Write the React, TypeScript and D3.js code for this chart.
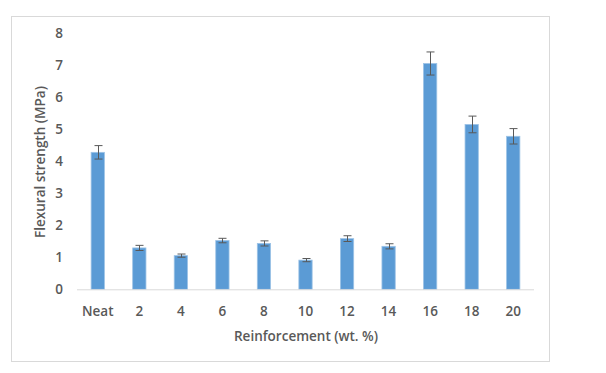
import * as d3 from 'd3';
import React, { useRef, useEffect } from 'react';

// categories and values
const categories = ['Neat', '2', '4', '6', '8', '10', '12', '14', '16', '18', '20'];
const strength = [4.27, 1.29, 1.05, 1.52, 1.43, 0.91, 1.58, 1.34, 7.04, 5.14, 4.77];
const errors = [0.21, 0.08, 0.05, 0.07, 0.08, 0.05, 0.09, 0.08, 0.36, 0.26, 0.24];
const yTicks = [0, 1, 2, 3, 4, 5, 6, 7, 8];

const App = () => {
    const svgRef = useRef<SVGSVGElement>(null);

    useEffect(() => {
        const font = "'Open Sans', 'Liberation Sans', sans-serif";
        const textColor = '#595959';
        const fontSize = 13.5;

        const svg = d3.select(svgRef.current);
        svg.selectAll('*').remove();

        // outer chart frame
        svg.append('rect')
            .attr('x', 11.5).attr('y', 16.5)
            .attr('width', 538).attr('height', 345)
            .attr('fill', '#fff')
            .attr('stroke', '#d9d9d9');

        const x = d3.scaleBand()
            .domain(categories)
            .range([77, 534])
            .paddingInner(0.68)
            .paddingOuter(0.34);

        const y = d3.scaleLinear()
            .domain([0, 8])
            .range([289.3, 32.7]);

        // y tick labels (no grid lines)
        svg.append('g')
            .selectAll('text')
            .data(yTicks)
            .enter().append('text')
            .attr('x', 63)
            .attr('y', (d) => y(d))
            .attr('dy', '0.36em')
            .attr('text-anchor', 'end')
            .attr('font-family', font)
            .attr('font-weight', 600)
            .attr('font-size', fontSize)
            .attr('fill', textColor)
            .text((d) => d);

        // bars
        svg.append('g')
            .selectAll('rect')
            .data(strength)
            .enter().append('rect')
            .attr('x', (d, i) => x(categories[i])!)
            .attr('y', (d) => y(d))
            .attr('width', x.bandwidth())
            .attr('height', (d) => y(0) - y(d))
            .attr('fill', '#5b9bd5')
            .attr('stroke', '#9dc3e6')
            .attr('stroke-width', 0.8);

        // x axis line
        svg.append('line')
            .attr('x1', 77).attr('x2', 534)
            .attr('y1', y(0) + 0.5).attr('y2', y(0) + 0.5)
            .attr('stroke', '#d9d9d9');

        // error bars
        const err = svg.append('g')
            .attr('stroke', '#595959')
            .attr('stroke-width', 1);
        strength.forEach((v, i) => {
            const cx = Math.round(x(categories[i])! + x.bandwidth() / 2) + 0.5;
            const top = y(v + errors[i]);
            const bot = y(v - errors[i]);
            err.append('line').attr('x1', cx).attr('x2', cx).attr('y1', top).attr('y2', bot);
            err.append('line').attr('x1', cx - 4).attr('x2', cx + 4).attr('y1', top).attr('y2', top);
            err.append('line').attr('x1', cx - 4).attr('x2', cx + 4).attr('y1', bot).attr('y2', bot);
        });

        // x category labels
        svg.append('g')
            .selectAll('text')
            .data(categories)
            .enter().append('text')
            .attr('x', (d) => x(d)! + x.bandwidth() / 2)
            .attr('y', 311)
            .attr('dy', '0.36em')
            .attr('text-anchor', 'middle')
            .attr('font-family', font)
            .attr('font-weight', 600)
            .attr('font-size', fontSize)
            .attr('fill', textColor)
            .text((d) => d);

        // axis titles
        svg.append('text')
            .attr('x', 306)
            .attr('y', 336)
            .attr('dy', '0.36em')
            .attr('text-anchor', 'middle')
            .attr('font-family', font)
            .attr('font-weight', 600)
            .attr('font-size', fontSize)
            .attr('fill', textColor)
            .text('Reinforcement (wt. %)');

        svg.append('text')
            .attr('transform', 'translate(40,162) rotate(-90)')
            .attr('dy', '0.36em')
            .attr('text-anchor', 'middle')
            .attr('font-family', font)
            .attr('font-weight', 600)
            .attr('font-size', fontSize)
            .attr('fill', textColor)
            .text('Flexural strength (MPa)');
    }, []);

    return (
        <svg
            ref={svgRef}
            width={606}
            height={373}
            style={{ position: 'absolute', left: 0, top: 0, background: '#fff' }}
        />
    );
};

export default App;
